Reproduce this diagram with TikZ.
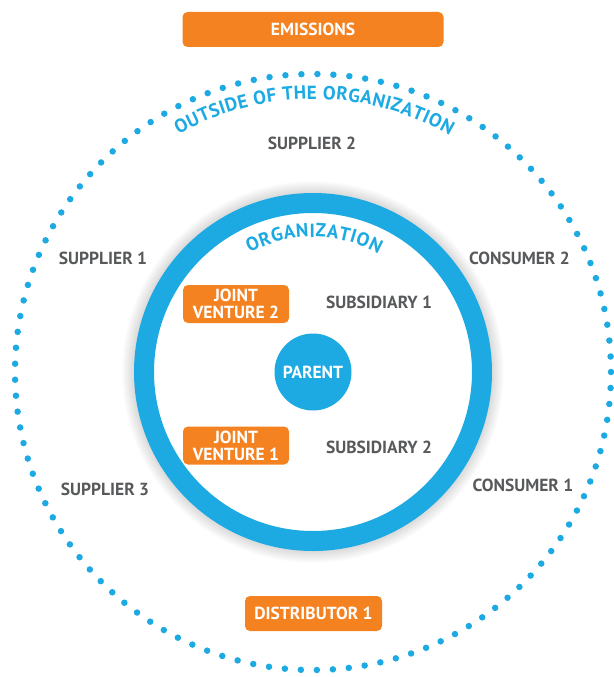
\documentclass[tikz,border=0pt]{standalone}
\usepackage{fontspec}
\setmainfont{PT Sans}
\usetikzlibrary{decorations.text}
\definecolor{orgblue}{RGB}{29,170,226}
\definecolor{orgorange}{RGB}{245,130,32}
\definecolor{orggray}{RGB}{88,89,91}
\newcommand{\labelfont}{\bfseries\fontsize{17.5}{17}\selectfont}
\newcommand{\arcfont}{\bfseries\fontsize{19}{19}\selectfont}
\tikzset{
    party/.style={font=\labelfont, text=orggray, inner sep=0pt},
    tag/.style={fill=orgorange, rounded corners=5pt, text=white,
        font=\labelfont, align=center, inner sep=0pt},
    curved label/.style={decorate, decoration={text along path,
        text align=fit to path, text color=orgblue, text={|\arcfont|#1}}}
}
\begin{document}
\begin{tikzpicture}[x=1pt,y=-1pt]
\useasboundingbox (0,0) rectangle (613,677);
\coordinate (centre) at (313,372);
% outside boundary
\draw[orgblue, line width=6.5pt, line cap=round, dash pattern=on 0pt off 16.01pt]
  (centre) circle[radius=298];
\path[curved label={OUTSIDE OF THE ORGANIZATION}]
  (centre) ++(240.5:273) arc[start angle=240.5, end angle=300, radius=273];
% organization ring with soft shadow
\foreach \k in {0,...,12}
  \fill[black, opacity=0.011] (centre) circle[radius=179+\k];
\fill[white] (centre) circle[radius=160];
\draw[orgblue, line width=20pt] (centre) circle[radius=169];
\path[curved label={ORGANIZATION}]
  (centre) ++(242:135) arc[start angle=242, end angle=299, radius=135];
% top and bottom tags
\node[tag, minimum width=261pt, minimum height=35pt] (emissions) at (313,29.5) {EMISSIONS};
\node[tag, minimum width=137pt, minimum height=35pt] (distributor1) at (313.5,613.5) {DISTRIBUTOR 1};
% outside parties
\node[party] (supplier2) at (312,143) {SUPPLIER 2};
\node[party] (supplier1) at (103,258) {SUPPLIER 1};
\node[party] (supplier3) at (105,489) {SUPPLIER 3};
\node[party] (consumer2) at (519.5,258) {CONSUMER 2};
\node[party] (consumer1) at (523,485) {CONSUMER 1};
% inside the organization
\node[circle, fill=orgblue, minimum size=77pt, inner sep=0pt, text=white, font=\labelfont]
  (parent) at (centre) {PARENT};
\node[tag, minimum width=106pt, minimum height=38pt] (jv2) at (236,304) {JOINT\\VENTURE 2};
\node[tag, minimum width=106pt, minimum height=38pt] (jv1) at (236,445.5) {JOINT\\VENTURE 1};
\node[party] (subsidiary1) at (379,302) {SUBSIDIARY 1};
\node[party] (subsidiary2) at (379,447) {SUBSIDIARY 2};
\end{tikzpicture}
\end{document}
